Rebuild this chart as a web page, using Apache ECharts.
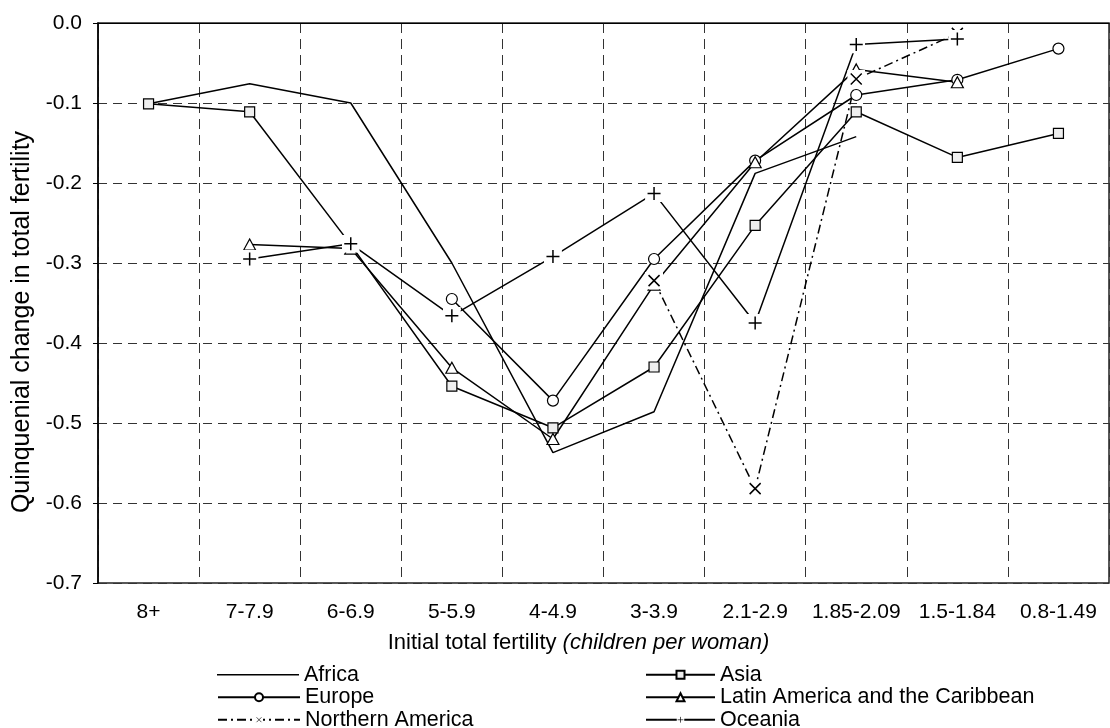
<!DOCTYPE html>
<html>
<head>
<meta charset="utf-8">
<title>Quinquenial change in total fertility</title>
<script src="https://cdn.jsdelivr.net/npm/echarts@6/dist/echarts.min.js"></script>
<style>
  html, body { margin: 0; padding: 0; background: #fff; }
  #chart { width: 1110px; height: 728px; }
</style>
</head>
<body>
<div id="chart"></div>
<script>
// Initial total fertility groups (children per woman)
const categories = ['8+', '7-7.9', '6-6.9', '5-5.9', '4-4.9', '3-3.9', '2.1-2.9', '1.85-2.09', '1.5-1.84', '0.8-1.49'];

// Quinquenial change in total fertility by region
const africa       = [-0.101, -0.076, -0.100, -0.300, -0.537, -0.486, -0.188, -0.142, null, null];
const asia         = [-0.101, -0.111, -0.277, -0.454, -0.506, -0.430, -0.253, -0.111, -0.168, -0.138];
const europe       = [null, null, null, -0.345, -0.472, -0.295, -0.172, -0.090, -0.071, -0.032];
const latinAmerica = [null, -0.277, -0.282, -0.431, -0.520, -0.327, -0.174, -0.058, -0.074, null];
const northAmerica = [null, null, null, null, null, -0.322, -0.582, -0.070, -0.013, null];
const oceania      = [null, -0.295, -0.276, -0.366, -0.292, -0.213, -0.375, -0.027, -0.020, null];

// Value axis range and tick step
const yMin = -0.7;
const yMax = 0;
const yStep = 0.1;

const FONT = 'Liberation Sans, Arial, sans-serif';

// Marker glyphs drawn on a white square so the lines stop short of them
function svgSymbol(pathD) {
  const svg = '<svg xmlns="http://www.w3.org/2000/svg" width="18" height="18" viewBox="0 0 18 18">' +
    '<rect x="0" y="0" width="18" height="18" fill="#ffffff"/>' +
    '<path d="' + pathD + '" stroke="#000000" stroke-width="1.5" fill="none"/></svg>';
  return 'image://data:image/svg+xml;charset=utf-8,' + encodeURIComponent(svg);
}
const plusSymbol = svgSymbol('M9 2.5V15.5M2.5 9H15.5');
const crossSymbol = svgSymbol('M3.5 3.5L14.5 14.5M14.5 3.5L3.5 14.5');

function lineSeries(name, data, extra) {
  return Object.assign({
    name: name,
    type: 'line',
    data: data,
    connectNulls: false,
    clip: false,
    silent: true,
    lineStyle: { color: '#000', width: 1.5, type: 'solid' },
    itemStyle: { color: '#fff', borderColor: '#000', borderWidth: 1.2 },
    emphasis: { disabled: true }
  }, extra);
}

const series = [
  lineSeries('Africa', africa, { symbol: 'none', itemStyle: { color: '#000' } }),
  lineSeries('Asia', asia, {
    symbol: 'rect', symbolSize: 10,
    itemStyle: { color: '#efefef', borderColor: '#000', borderWidth: 1.2 }
  }),
  lineSeries('Europe', europe, { symbol: 'circle', symbolSize: 11 }),
  lineSeries('Latin America and the Caribbean', latinAmerica, { symbol: 'triangle', symbolSize: [12, 11] }),
  lineSeries('Northern America', northAmerica, {
    symbol: crossSymbol, symbolSize: 18,
    lineStyle: { color: '#000', width: 1.5, type: [9, 4, 2, 4] }
  }),
  lineSeries('Oceania', oceania, { symbol: plusSymbol, symbolSize: 18 })
];

// Legend: two columns of three rows, one legend block per entry
const legendText = { fontFamily: FONT, fontSize: 21.5, color: '#000', lineHeight: 22.5 };
const legendCells = [
  { item: { name: 'Africa', icon: 'path://M0,0H80V1.5H0Z' }, col: 0, row: 0 },
  { item: 'Europe', col: 0, row: 1 },
  { item: 'Northern America', col: 0, row: 2 },
  { item: 'Asia', col: 1, row: 0 },
  { item: 'Latin America and the Caribbean', col: 1, row: 1 },
  { item: 'Oceania', col: 1, row: 2 }
];
const legends = legendCells.map(function (c) {
  return {
    orient: 'horizontal',
    left: c.col === 0 ? 217 : 645,
    top: 663.5 + c.row * 22.5,
    padding: 0,
    itemWidth: c.col === 0 ? 82 : 69,
    itemHeight: 10,
    itemGap: 0,
    selectedMode: false,
    textStyle: legendText,
    data: [c.item]
  };
});

const option = {
  animation: false,
  backgroundColor: '#fff',
  textStyle: { fontFamily: FONT },
  grid: {
    left: 98, right: 1, top: 23, bottom: 145,
    show: true, borderColor: '#222', borderWidth: 1.5
  },
  legend: legends,
  xAxis: {
    type: 'category',
    data: categories,
    boundaryGap: true,
    name: '{a|Initial total fertility }{b|(children per woman)}',
    nameLocation: 'middle',
    nameGap: 49,
    nameTextStyle: {
      padding: [0, 50, 0, 0],
      rich: {
        a: { fontFamily: FONT, fontSize: 22, color: '#000' },
        b: { fontFamily: FONT, fontSize: 22, color: '#000', fontStyle: 'italic' }
      }
    },
    axisLine: { show: true, lineStyle: { color: '#000', width: 1 } },
    axisTick: { show: false },
    axisLabel: { fontFamily: FONT, fontSize: 21, color: '#000', margin: 19, interval: 0 },
    splitLine: { show: true, interval: 0, lineStyle: { color: '#333', width: 1, type: [10, 6] } }
  },
  yAxis: {
    type: 'value',
    min: yMin, max: yMax, interval: yStep,
    name: 'Quinquenial change in total fertility',
    nameLocation: 'middle',
    nameGap: 62,
    nameTextStyle: { fontFamily: FONT, fontSize: 25, color: '#000', padding: [0, 38, 0, 0] },
    axisLine: { show: true, lineStyle: { color: '#000', width: 1.5 } },
    axisTick: { show: true, inside: false, length: 5, lineStyle: { color: '#000' } },
    axisLabel: {
      fontFamily: FONT, fontSize: 21, color: '#000', margin: 16,
      formatter: function (v) { return (Math.abs(v) < 1e-9 ? 0 : v).toFixed(1); }
    },
    splitLine: { show: true, lineStyle: { color: '#333', width: 1, type: [9, 6] } }
  },
  series: series
};

const chart = echarts.init(document.getElementById('chart'), null, { renderer: 'canvas' });
chart.setOption(option);
</script>
</body>
</html>
